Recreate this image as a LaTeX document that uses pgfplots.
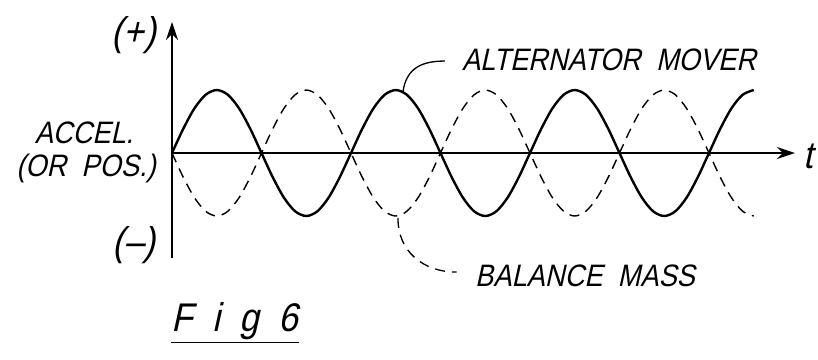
\documentclass[border=0pt]{standalone}
\usepackage{fontspec}
\newfontfamily\lab{Liberation Sans}[FakeStretch=0.88, FakeSlant=0.22]
\usepackage{pgfplots}
\pgfplotsset{compat=1.18}
\usetikzlibrary{arrows.meta}

% half period = 1 unit; solid = alternator mover, dashed = balance mass
\pgfplotstableread{
x      s        d
0      0        0
0.125  0.3827  -0.3827
0.25   0.7071  -0.7071
0.375  0.9239  -0.9239
0.5    1       -1
0.625  0.9239  -0.9239
0.75   0.7071  -0.7071
0.875  0.3827  -0.3827
1      0        0
1.125 -0.3827   0.3827
1.25  -0.7071   0.7071
1.375 -0.9239   0.9239
1.5   -1        1
1.625 -0.9239   0.9239
1.75  -0.7071   0.7071
1.875 -0.3827   0.3827
2      0        0
2.125  0.3827  -0.3827
2.25   0.7071  -0.7071
2.375  0.9239  -0.9239
2.5    1       -1
2.625  0.9239  -0.9239
2.75   0.7071  -0.7071
2.875  0.3827  -0.3827
3      0        0
3.125 -0.3827   0.3827
3.25  -0.7071   0.7071
3.375 -0.9239   0.9239
3.5   -1        1
3.625 -0.9239   0.9239
3.75  -0.7071   0.7071
3.875 -0.3827   0.3827
4      0        0
4.125  0.3827  -0.3827
4.25   0.7071  -0.7071
4.375  0.9239  -0.9239
4.5    1       -1
4.625  0.9239  -0.9239
4.75   0.7071  -0.7071
4.875  0.3827  -0.3827
5      0        0
5.125 -0.3827   0.3827
5.25  -0.7071   0.7071
5.375 -0.9239   0.9239
5.5   -1        1
5.625 -0.9239   0.9239
5.75  -0.7071   0.7071
5.875 -0.3827   0.3827
6      0        0
6.125  0.3827  -0.3827
6.25   0.7071  -0.7071
6.375  0.9239  -0.9239
6.5    1       -1
}\waves

\begin{document}
\begin{tikzpicture}
\begin{axis}[
  x=44.75pt, y=31.5pt,
  xmin=0, xmax=6.96, ymin=-1.67, ymax=2.08,
  axis lines=middle,
  axis line style={line width=1.1pt, -{Stealth[length=9pt, width=6pt]}},
  ticks=none,
  clip=false,
]
\addplot[black, line width=1.2pt, smooth] table[x=x, y=s] {\waves};
\addplot[black, line width=0.7pt, smooth, dash pattern=on 5pt off 3.5pt] table[x=x, y=d] {\waves};

% leaders
\draw[line width=0.65pt] (axis cs:2.58,0.97) .. controls (axis cs:2.62,1.36) and (axis cs:2.8,1.46) .. (axis cs:3.05,1.46);
\draw[line width=0.65pt, dash pattern=on 5pt off 3.5pt] (axis cs:2.525,-1.03) .. controls (axis cs:2.52,-1.55) and (axis cs:2.8,-1.89) .. (axis cs:3.18,-1.89);

% labels
\node[font=\lab\fontsize{20}{22}\selectfont] at (axis cs:-0.425,1.873) {(+)};
\node[font=\lab\fontsize{20}{22}\selectfont] at (axis cs:-0.425,-1.46) {(–)};
\node[font=\lab\fontsize{15.5}{17}\selectfont] at (axis cs:-0.983,0.317) {ACCEL.};
\node[font=\lab\fontsize{15.5}{17}\selectfont] at (axis cs:-0.961,-0.238) {(OR\ \ POS.)};
\node[font=\lab\fontsize{15.5}{17}\selectfont] at (axis cs:4.883,1.476) {ALTERNATOR\ \ MOVER};
\node[font=\lab\fontsize{15.5}{17}\selectfont] at (axis cs:4.615,-1.952) {BALANCE\ \ MASS};
\node[font=\lab\fontsize{19}{21}\selectfont] at (axis cs:7.11,-0.06) {t};
\node[font=\lab\fontsize{20}{22}\selectfont] at (axis cs:0.704,-2.70) {\underline{F\ \ i\ \ g\ \ 6}};

\coordinate (bl) at (axis cs:-1.922,-3.27);
\coordinate (tr) at (axis cs:7.218,2.429);
\end{axis}
\pgfresetboundingbox
\path[use as bounding box] (bl) rectangle (tr);
\end{tikzpicture}
\end{document}
